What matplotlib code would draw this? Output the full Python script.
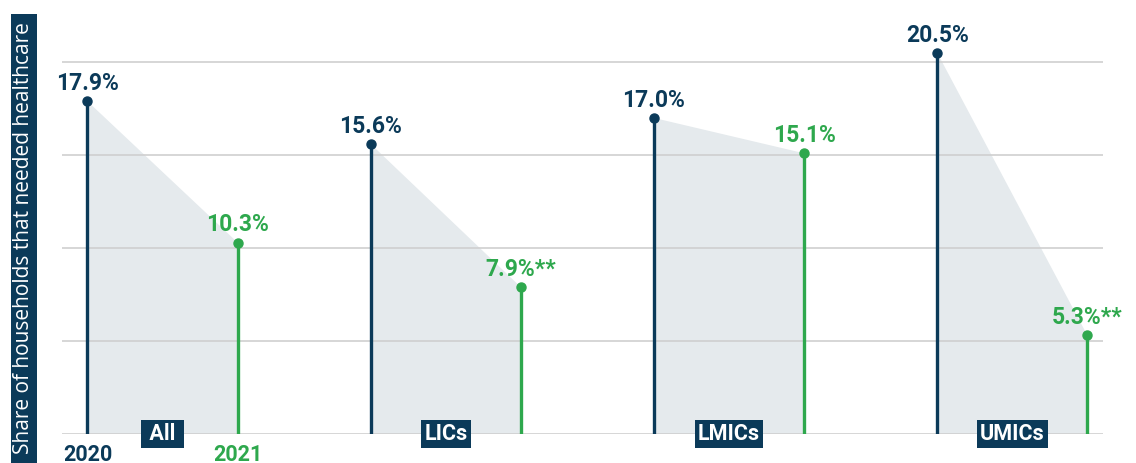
import numpy as np
import matplotlib
matplotlib.use("Agg")
import matplotlib.pyplot as plt
from matplotlib.patches import Rectangle

# data
groups = ["All", "LICs", "LMICs", "UMICs"]
vals_2020 = [17.9, 15.6, 17.0, 20.5]
vals_2021 = [10.3, 7.9, 15.1, 5.3]
labels_2020 = ["17.9%", "15.6%", "17.0%", "20.5%"]
labels_2021 = ["10.3%", "7.9%**", "15.1%", "5.3%**"]
years = ["2020", "2021"]
grid_ticks = [0, 5, 10, 15, 20]

navy = "#0b3a59"
green = "#2ea84d"
fill_col = "#e5eaed"
grid_col = "#cfcfcf"

plt.rcParams["font.family"] = ["Roboto", "DejaVu Sans"]

fig = plt.figure(figsize=(11.36, 4.63), dpi=100)
ax = fig.add_axes([62 / 1136, 29 / 463, 1041 / 1136, 409 / 463])

off = 0.265
x = np.arange(len(groups))
x20 = x - off
x21 = x + off

# shaded slope between the two years
for i in range(len(groups)):
    ax.fill([x20[i], x21[i], x21[i], x20[i]],
            [vals_2020[i], vals_2021[i], 0, 0],
            color=fill_col, lw=0, zorder=1)

# gridlines on top of the fill
for t in grid_ticks:
    ax.axhline(t, color=grid_col, lw=1.2, zorder=2)

ax.vlines(x20, 0, vals_2020, color=navy, lw=2.4, zorder=3)
ax.vlines(x21, 0, vals_2021, color=green, lw=2.4, zorder=3)
ax.plot(x20, vals_2020, "o", color=navy, ms=6.5, zorder=4)
ax.plot(x21, vals_2021, "o", color=green, ms=6.5, zorder=4)

for i in range(len(groups)):
    ax.annotate(labels_2020[i], (x20[i], vals_2020[i]), xytext=(0, 8),
                textcoords="offset points", ha="center", va="baseline",
                fontsize=16.5, fontweight="bold", color=navy, zorder=5)
    ax.annotate(labels_2021[i], (x21[i], vals_2021[i]), xytext=(0, 8),
                textcoords="offset points", ha="center", va="baseline",
                fontsize=16.5, fontweight="bold", color=green, zorder=5)
    name = groups[i] if len(groups[i]) > 3 else " " + groups[i] + " "
    ax.text(x[i], 0, name, ha="center", va="center", fontsize=15.5,
            fontweight="bold", color="white", zorder=6,
            bbox=dict(boxstyle="square,pad=0.15", fc=navy, ec="none"))

# year labels under the first group
ax.annotate(years[0], (x20[0], 0), xytext=(0, -7.5), textcoords="offset points",
            ha="center", va="top", fontsize=15.5, fontweight="bold",
            color=navy, annotation_clip=False)
ax.annotate(years[1], (x21[0], 0), xytext=(0, -7.5), textcoords="offset points",
            ha="center", va="top", fontsize=15.5, fontweight="bold",
            color=green, annotation_clip=False)

ax.set_xlim(-0.3547, 3.32)
ax.set_ylim(0, 22)
ax.axis("off")

# y-axis title in a dark box
fig.patches.append(Rectangle((11 / 1136, 0), 26 / 1136, 1 - 14 / 463,
                             transform=fig.transFigure, fc=navy, ec="none"))
fig.text(24 / 1136, 1 - 22 / 463, "Share of households that needed healthcare",
         rotation=90, ha="center", va="top", color="white", fontsize=15,
         family=["Open Sans", "DejaVu Sans"])

fig.savefig("out.png", dpi=100)
